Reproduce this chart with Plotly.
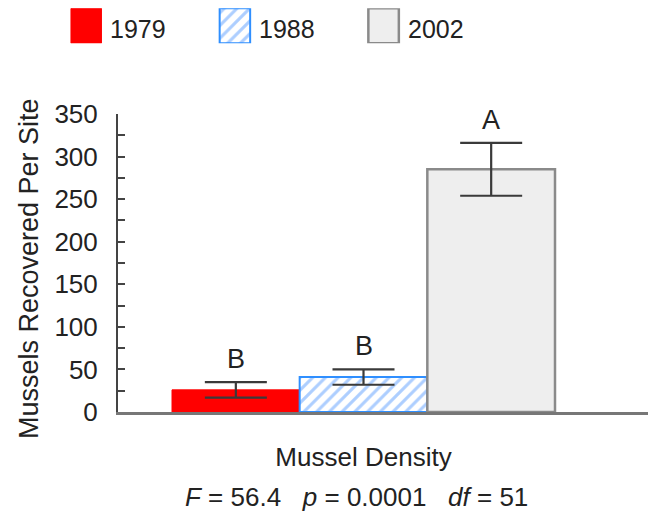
import plotly.graph_objects as go

category = ["Mussel Density"]
years = ["1979", "1988", "2002"]
means = [26, 41, 285]
errors = [9, 9, 31]
letters = ["B", "B", "A"]
stats_text = "<i>F</i> = 56.4   <i>p</i> = 0.0001   <i>df</i> = 51"

FONT = "Liberation Sans, Arial, sans-serif"
W, H = 648, 507  # page body has an 8px margin in the 656x515 window
styles = {
    "1979": dict(color="#ff0000", line=dict(color="#ff0000", width=1)),
    "1988": dict(color="#ffffff",
                 pattern=dict(shape="/", fgcolor="#5c9eff", bgcolor="#ffffff", size=9, solidity=0.35),
                 line=dict(color="#2f8fff", width=2)),
    "2002": dict(color="#eeeeee", line=dict(color="#8a8a8a", width=2.5)),
}

fig = go.Figure()
for yr, m, e in zip(years, means, errors):
    fig.add_trace(go.Bar(
        x=category, y=[m], name=yr, marker=styles[yr],
        error_y=dict(type="data", array=[e], color="#3a3a3a", thickness=2.2, width=31),
        showlegend=False,
    ))

# custom legend drawn as bars on a secondary axis pair
for i, yr in enumerate(years):
    fig.add_trace(go.Bar(
        x=[i], y=[1], width=0.205, marker=styles[yr], xaxis="x2", yaxis="y2",
        showlegend=False, hoverinfo="skip",
    ))
    fig.add_annotation(x=i + 0.1025, y=0.5, xref="x2", yref="y2", text=yr,
                       showarrow=False, xanchor="left", yanchor="middle",
                       xshift=7, yshift=-3, font=dict(size=25, color="#222", family=FONT))

group_w = 0.8
offsets = [-group_w / 3, 0, group_w / 3]
for off, m, e, lt in zip(offsets, means, errors, letters):
    fig.add_annotation(x=off, y=m + e, xref="x", yref="y", text=lt, showarrow=False,
                       yanchor="bottom", yshift=6, font=dict(size=27, color="#222", family=FONT))

fig.add_annotation(x=-0.015, y=0, xref="x", yref="y", text=stats_text, showarrow=False,
                   yanchor="middle", yshift=-85, font=dict(size=26, color="#222", family=FONT))

fig.add_annotation(x=21 / W, y=(H - 261) / H, xref="paper", yref="paper",
                   text="Mussels Recovered Per Site", textangle=-90, showarrow=False,
                   xanchor="center", yanchor="middle", font=dict(size=27, color="#222", family=FONT))

fig.update_layout(
    width=W, height=H,
    margin=dict(l=0, r=0, t=0, b=0),
    paper_bgcolor="white", plot_bgcolor="white",
    barmode="group", bargap=0.2, bargroupgap=0,
    font=dict(family=FONT, size=26, color="#222"),
    xaxis=dict(domain=[110 / W, 645 / W], range=[-0.5128, 0.6047],
               showline=True, linecolor="#777", linewidth=2.5, ticks="",
               showgrid=False, zeroline=False, automargin=False,
               ticklabelstandoff=20, tickfont=dict(size=26, color="#222")),
    yaxis=dict(domain=[103 / H, 401 / H], range=[0, 350], dtick=50,
               showline=True, linecolor="#444", linewidth=2, ticks="inside", ticklen=7,
               tickcolor="#444", tickwidth=2, ticksuffix="\u2002",
               minor=dict(dtick=25, ticks="inside", ticklen=7, tickcolor="#444", tickwidth=2),
               showgrid=False, zeroline=False, automargin=False,
               tickfont=dict(size=26, color="#222")),
    xaxis2=dict(domain=[0, 1], range=[-0.526, 3.832], visible=False, anchor="y2"),
    yaxis2=dict(domain=[(H - 35.3) / H, (H - 0.3) / H], range=[0, 1], visible=False, anchor="x2"),
)

fig.write_html("out.html")
